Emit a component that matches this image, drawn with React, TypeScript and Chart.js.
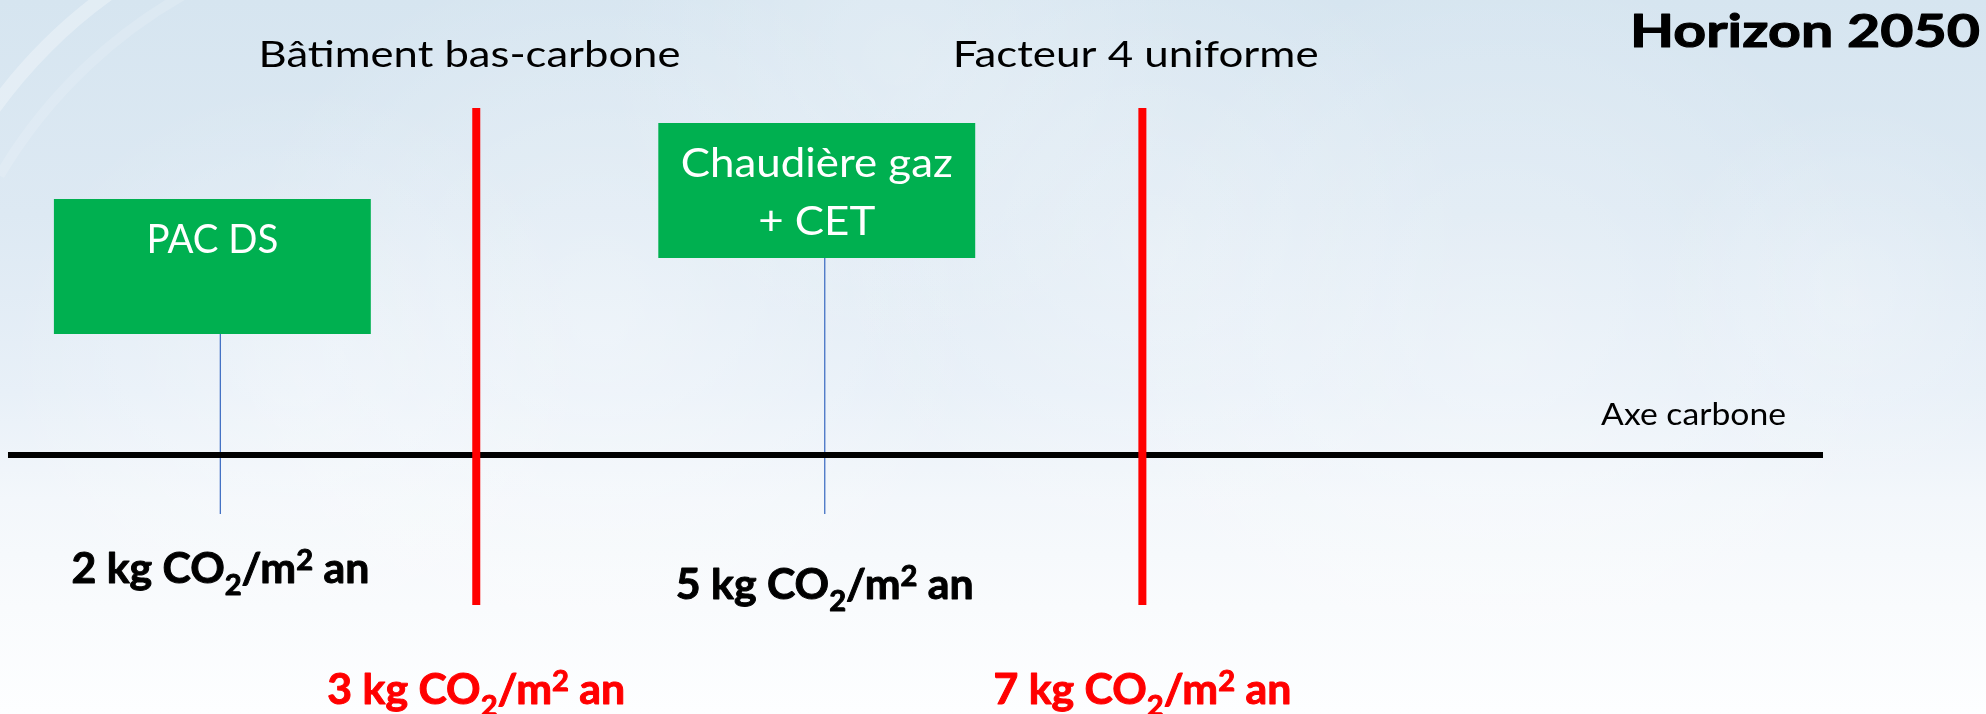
import React, { useEffect, useRef } from "react";
import { Chart, registerables } from "chart.js";

Chart.register(...registerables);

// ---------- DATA ----------
// Positions are read on a schematic "carbon axis" running from 0 (left end) to 100 (right end).
const solutionNames = ["PAC DS", "Chaudière gaz\n+ CET"];
const solutionValues = [2, 5]; // kg CO2/m² an
const solutionAxisPos = [11.7, 45.0];

const thresholdNames = ["Bâtiment bas-carbone", "Facteur 4 uniforme"];
const thresholdValues = [3, 7]; // kg CO2/m² an
const thresholdAxisPos = [25.8, 62.5];

const axisRange = [0, 100];
const axisLabel = "Axe carbone";
const chartTitle = "Horizon 2050";

// ---------- LAYOUT (vertical units: pixels above the carbon axis) ----------
const L = {
  xMin: -0.44,
  xMax: 108.98,
  yMin: -259,
  yMax: 455,
  thresholdTop: 347,
  thresholdBottom: -150,
  connectorBottom: -59,
  boxBottoms: [121, 197],
  boxHeight: 135,
  boxHalfW: 8.73,
  boxShift: -0.44,
  boxLineBaselines: [54, 112],
  boxTextWidths: [[132], [272, 108]],
  boxTextCap: 29.5,
  thresholdTitleBaseline: 388,
  thresholdTitleShift: -0.37,
  thresholdTitleWidths: [422, 366],
  thresholdTitleCap: 26.5,
  titleBaseline: 408,
  titleRight: 1980,
  titleWidth: 350,
  titleCap: 34,
  axisLabelBaseline: 30,
  axisLabelRight: 1786,
  axisLabelWidth: 185,
  axisLabelCap: 22,
  solutionLabelBaselines: [-128, -144],
  thresholdLabelBaseline: -249,
  valueLabelWidth: 298,
  valueLabelCap: 30,
};

const FONT = "Lato, 'Open Sans', 'DejaVu Sans', sans-serif";
const GREEN = "#00B050";
const RED = "#FF0000";
const BLUE = "#4472C4";

function fitSize(ctx: CanvasRenderingContext2D, text: string, weight: string, target: number) {
  ctx.font = `${weight} 100px ${FONT}`;
  const w = ctx.measureText(text).width;
  return (100 * target) / w;
}

function capHeight(ctx: CanvasRenderingContext2D, weight: string, size: number) {
  ctx.font = `${weight} ${size}px ${FONT}`;
  return ctx.measureText("H").actualBoundingBoxAscent;
}

// Draw text with given font size, stretched vertically so its cap height matches targetCap
function drawStretched(
  ctx: CanvasRenderingContext2D,
  text: string,
  weight: string,
  size: number,
  x: number,
  baseline: number,
  targetCap: number,
  align: CanvasTextAlign,
  color: string,
  heavy = 0
) {
  const k = targetCap / capHeight(ctx, weight, size);
  ctx.save();
  ctx.font = `${weight} ${size}px ${FONT}`;
  ctx.fillStyle = color;
  ctx.strokeStyle = color;
  ctx.textAlign = align;
  ctx.textBaseline = "alphabetic";
  ctx.translate(x, baseline);
  ctx.scale(1, k);
  ctx.fillText(text, 0, 0);
  if (heavy > 0) {
    ctx.lineWidth = heavy;
    ctx.lineJoin = "round";
    ctx.strokeText(text, 0, 0);
  }
  ctx.restore();
}

type Part = { t: string; k?: "sub" | "sup" };
function valueParts(v: number): Part[] {
  return [
    { t: `${v} kg CO` },
    { t: "2", k: "sub" },
    { t: "/m" },
    { t: "2", k: "sup" },
    { t: " an" },
  ];
}

function drawComposite(
  ctx: CanvasRenderingContext2D,
  parts: Part[],
  cx: number,
  baseline: number,
  targetW: number,
  targetCap: number,
  color: string
) {
  const ratio = 0.68;
  const measure = (size: number) => {
    let total = 0;
    const ws: number[] = [];
    for (const p of parts) {
      const s = p.k ? size * ratio : size;
      ctx.font = `bold ${s}px ${FONT}`;
      const w = ctx.measureText(p.t).width;
      ws.push(w);
      total += w;
    }
    return { total, ws };
  };
  const base = measure(100);
  const size = (100 * targetW) / base.total;
  const m = measure(size);
  const k = targetCap / capHeight(ctx, "bold", size);
  let x = cx - m.total / 2;
  ctx.save();
  ctx.fillStyle = color;
  ctx.strokeStyle = color;
  ctx.lineWidth = 1;
  ctx.lineJoin = "round";
  ctx.textAlign = "left";
  ctx.textBaseline = "alphabetic";
  ctx.translate(0, baseline);
  ctx.scale(1, k);
  parts.forEach((p, i) => {
    const s = p.k ? size * ratio : size;
    ctx.font = `bold ${s}px ${FONT}`;
    let y = 0;
    if (p.k === "sub") y = (0.4 * targetCap) / k;
    if (p.k === "sup") y = (-0.42 * targetCap) / k;
    ctx.fillText(p.t, x, y);
    ctx.strokeText(p.t, x, y);
    x += m.ws[i];
  });
  ctx.restore();
}

const backgroundPlugin = {
  id: "skyBackground",
  beforeDraw(chart: any) {
    const { ctx, width, height } = chart;
    ctx.save();
    const g = ctx.createLinearGradient(0, 0, 0, height);
    g.addColorStop(0, "#d6e5f0");
    g.addColorStop(0.3, "#dde9f3");
    g.addColorStop(0.55, "#e8f0f8");
    g.addColorStop(0.7, "#f3f7fb");
    g.addColorStop(0.85, "#f9fbfd");
    g.addColorStop(1, "#fdfeff");
    ctx.fillStyle = g;
    ctx.fillRect(0, 0, width, height);
    // soft clouds
    const clouds = [
      [600, 330, 380, 0.35],
      [1150, 250, 320, 0.3],
      [1500, 360, 400, 0.3],
      [300, 380, 300, 0.3],
      [1850, 300, 200, 0.25],
      [900, 60, 300, 0.25],
    ];
    for (const [cx, cy, r, a] of clouds) {
      const rg = ctx.createRadialGradient(cx, cy, 0, cx, cy, r);
      rg.addColorStop(0, `rgba(255,255,255,${a})`);
      rg.addColorStop(1, "rgba(255,255,255,0)");
      ctx.fillStyle = rg;
      ctx.fillRect(cx - r, cy - r, 2 * r, 2 * r);
    }
    // faint streak in the top-left corner
    ctx.strokeStyle = "rgba(255,255,255,0.3)";
    ctx.lineWidth = 14;
    ctx.beginPath();
    ctx.arc(400, 400, 500, Math.PI * 1.17, Math.PI * 1.33);
    ctx.stroke();
    ctx.strokeStyle = "rgba(255,255,255,0.15)";
    ctx.lineWidth = 10;
    ctx.beginPath();
    ctx.arc(430, 430, 500, Math.PI * 1.17, Math.PI * 1.35);
    ctx.stroke();
    ctx.restore();
  },
};

const textPlugin = {
  id: "diagramText",
  afterDatasetsDraw(chart: any) {
    const { ctx } = chart;
    const xs = chart.scales.x;
    const ys = chart.scales.y;
    ctx.save();

    // Title
    let s = fitSize(ctx, chartTitle, "bold", L.titleWidth);
    drawStretched(ctx, chartTitle, "bold", s, L.titleRight, ys.getPixelForValue(L.titleBaseline), L.titleCap, "right", "#000", 1.3);

    // Axis label
    s = fitSize(ctx, axisLabel, "normal", L.axisLabelWidth);
    drawStretched(ctx, axisLabel, "normal", s, L.axisLabelRight, ys.getPixelForValue(L.axisLabelBaseline), L.axisLabelCap, "right", "#000");

    // Threshold titles + values
    thresholdNames.forEach((name, i) => {
      const sz = fitSize(ctx, name, "normal", L.thresholdTitleWidths[i]);
      drawStretched(
        ctx,
        name,
        "normal",
        sz,
        xs.getPixelForValue(thresholdAxisPos[i] + L.thresholdTitleShift),
        ys.getPixelForValue(L.thresholdTitleBaseline),
        L.thresholdTitleCap,
        "center",
        "#000"
      );
      drawComposite(
        ctx,
        valueParts(thresholdValues[i]),
        xs.getPixelForValue(thresholdAxisPos[i]),
        ys.getPixelForValue(L.thresholdLabelBaseline),
        L.valueLabelWidth,
        L.valueLabelCap,
        RED
      );
    });

    // Solution boxes text + values
    solutionNames.forEach((name, i) => {
      const lines = name.split("\n");
      const top = L.boxBottoms[i] + L.boxHeight;
      const cx = xs.getPixelForValue(solutionAxisPos[i] + L.boxShift);
      const sz = fitSize(ctx, lines[0], "normal", L.boxTextWidths[i][0]);
      lines.forEach((ln, j) => {
        drawStretched(ctx, ln, "normal", sz, cx, ys.getPixelForValue(top - L.boxLineBaselines[j]), L.boxTextCap, "center", "#fff");
      });
      drawComposite(
        ctx,
        valueParts(solutionValues[i]),
        xs.getPixelForValue(solutionAxisPos[i]),
        ys.getPixelForValue(L.solutionLabelBaselines[i]),
        L.valueLabelWidth,
        L.valueLabelCap,
        "#000"
      );
    });
    ctx.restore();
  },
};

export default function App() {
  const ref = useRef<HTMLCanvasElement>(null);
  useEffect(() => {
    if (!ref.current) return;
    const datasets: any[] = [];
    // Threshold red lines (drawn on top)
    thresholdAxisPos.forEach((p, i) => {
      datasets.push({
        label: thresholdNames[i],
        data: [
          { x: p, y: L.thresholdTop },
          { x: p, y: L.thresholdBottom },
        ],
        borderColor: RED,
        borderWidth: 8,
        borderCapStyle: "butt",
        pointRadius: 0,
        fill: false,
      });
    });
    // Carbon axis
    datasets.push({
      label: axisLabel,
      data: [
        { x: axisRange[0], y: 0 },
        { x: axisRange[1], y: 0 },
      ],
      borderColor: "#000",
      borderWidth: 6,
      borderCapStyle: "butt",
      pointRadius: 0,
      fill: false,
    });
    // Connectors
    solutionAxisPos.forEach((p, i) => {
      datasets.push({
        label: solutionNames[i] + " connector",
        data: [
          { x: p, y: L.boxBottoms[i] },
          { x: p, y: L.connectorBottom },
        ],
        borderColor: BLUE,
        borderWidth: 1.3,
        pointRadius: 0,
        fill: false,
      });
    });
    // Green boxes
    solutionAxisPos.forEach((p, i) => {
      const c = p + L.boxShift;
      const b = L.boxBottoms[i];
      const t = b + L.boxHeight;
      datasets.push({
        label: solutionNames[i],
        data: [
          { x: c - L.boxHalfW, y: b },
          { x: c + L.boxHalfW, y: b },
          { x: c + L.boxHalfW, y: t },
          { x: c - L.boxHalfW, y: t },
          { x: c - L.boxHalfW, y: b },
        ],
        borderWidth: 0,
        borderColor: "rgba(0,0,0,0)",
        backgroundColor: GREEN,
        fill: "shape",
        pointRadius: 0,
        tension: 0,
      });
    });

    const chart = new Chart(ref.current, {
      type: "line",
      data: { datasets },
      options: {
        animation: false,
        responsive: false,
        devicePixelRatio: 1,
        layout: { padding: 0 },
        scales: {
          x: { type: "linear", min: L.xMin, max: L.xMax, display: false },
          y: { type: "linear", min: L.yMin, max: L.yMax, display: false },
        },
        plugins: {
          legend: { display: false },
          tooltip: { enabled: false },
          title: { display: false },
        },
        elements: { line: { tension: 0 } },
      } as any,
      plugins: [backgroundPlugin, textPlugin],
    });
    return () => chart.destroy();
  }, []);

  return (
    <div style={{ position: "fixed", left: 0, top: 0, width: 1986, height: 714 }}>
      <canvas ref={ref} width={1986} height={714} style={{ display: "block" }} />
    </div>
  );
}
